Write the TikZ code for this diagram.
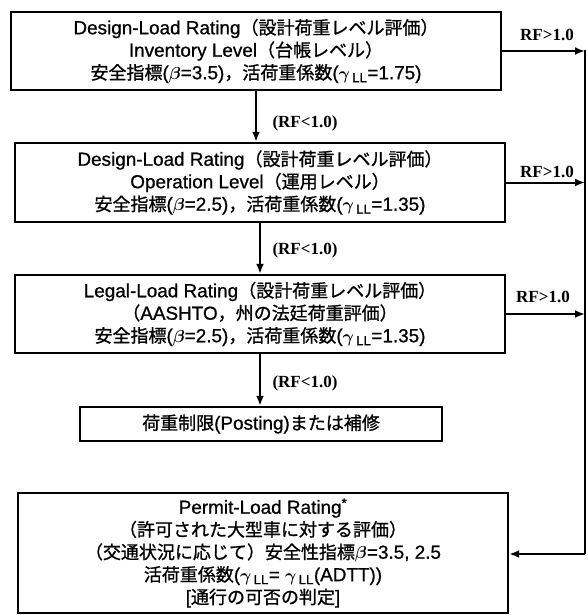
\documentclass[tikz,border=0pt]{standalone}
\usepackage{fontspec}
\setmainfont{Liberation Sans}[Scale=1.05, FakeBold=0.8]
\newfontfamily\jp{Noto Sans CJK JP}[FakeBold=1]
\newfontfamily\rffont{Liberation Serif}
\usetikzlibrary{arrows.meta}

\tikzset{
  ratebox/.style={draw, line width=2.4pt, minimum width=490pt, minimum height=78pt,
    inner sep=0pt, align=center, font=\boldmath\fontsize{18}{22.5}\selectfont},
  flow/.style={line width=2pt, -{Latex[length=10pt,width=8pt]}},
  rflabel/.style={font=\rffont\bfseries\fontsize{17}{20}\selectfont, inner sep=0pt},
}
\newcommand{\J}[1]{{\jp #1}}
\newcommand{\gLL}{$\gamma$\textsubscript{\,LL}}

\begin{document}
\begin{tikzpicture}[x=1pt,y=-1pt]
    \useasboundingbox (0,0) rectangle (587,615);
    % Rating levels
    \node[ratebox] (inv) at (256,51) {Design-Load Rating\J{（設計荷重レベル評価）}\\
        Inventory Level\J{（台帳レベル）}\\
        \J{安全指標}($\beta$=3.5)\J{，活荷重係数}(\gLL=1.75)};
    \node[ratebox, minimum height=79pt] (op) at (260,182.5) {Design-Load Rating\J{（設計荷重レベル評価）}\\
        Operation Level\J{（運用レベル）}\\
        \J{安全指標}($\beta$=2.5)\J{，活荷重係数}(\gLL=1.35)};
    \node[ratebox] (legal) at (260,314) {Legal-Load Rating\J{（設計荷重レベル評価）}\\
        \J{（}AASHTO\J{，州の法廷荷重評価）}\\
        \J{安全指標}($\beta$=2.5)\J{，活荷重係数}(\gLL=1.35)};
    \node[ratebox, minimum width=362pt, minimum height=34pt] (post) at (261,424) {\J{荷重制限}(Posting)\J{または補修}};
    \node[ratebox, minimum height=120pt] (permit) at (263,553) {Permit-Load Rating\textsuperscript{*}\\
        \J{（許可された大型車に対する評価）}\\
        \J{（交通状況に応じて）安全性指標}$\beta$=3.5, 2.5\\
        \J{活荷重係数}(\gLL= \gLL(ADTT))\\
        {[}\J{通行の可否の判定}]};
    % Right-hand return line
    \coordinate (rtop) at (585,50);
    \coordinate (rbot) at (585,554);
    \draw[line width=2pt] (rtop) -- (rbot);
    \draw[flow] (rbot) -- (rbot -| permit.east);
    % RF>1.0 exits
    \draw[flow] (inv.east) -- (inv.east -| rtop);
    \draw[flow] (op.east) -- (op.east -| rtop);
    \draw[flow] (legal.east) -- (legal.east -| rtop);
    \node[rflabel] (gt1) at (547,35) {RF>1.0};
    \node[rflabel] (gt2) at (547,172) {RF>1.0};
    \node[rflabel] (gt3) at (543,297) {RF>1.0};
    % RF<1.0 steps down
    \draw[flow] (inv.south) -- (inv.south |- op.north);
    \draw[flow] (op.south) -- (legal.north);
    \draw[flow] (legal.south) -- (legal.south |- post.north);
    \node[rflabel] (lt1) at (305,123) {(RF<1.0)};
    \node[rflabel] (lt2) at (305,250) {(RF<1.0)};
    \node[rflabel] (lt3) at (305,383) {(RF<1.0)};
\end{tikzpicture}
\end{document}
